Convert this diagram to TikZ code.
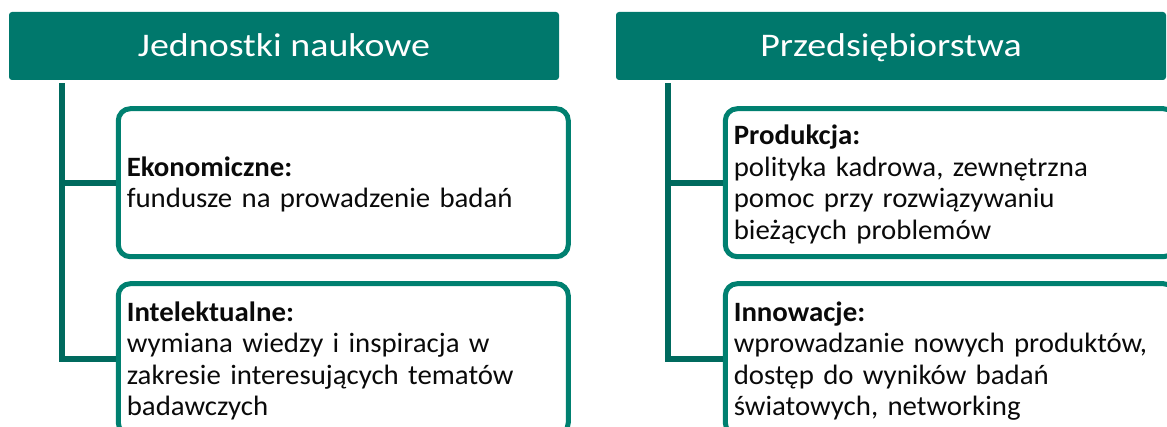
\documentclass[tikz,border=0pt]{standalone}
\usepackage{fontspec}
\setmainfont{Carlito}
\newfontfamily\headfont[FakeStretch=1.15]{Carlito}
\newfontfamily\bodyfont[FakeStretch=1.03, WordSpace=0.85]{Carlito}
\usepackage{xcolor}
\usepackage{tikz}
\usetikzlibrary{positioning}

\definecolor{headteal}{HTML}{00786C}
\definecolor{boxteal}{HTML}{008070}
\definecolor{lineteal}{HTML}{006A5E}
\definecolor{textblack}{HTML}{0A0A0A}

\begin{document}
\begin{tikzpicture}[x=1pt, y=-1pt]
    \tikzstyle{header} = [rectangle, rounded corners=3pt, fill=headteal, text=white, minimum width=550pt, minimum height=68pt, text height=26pt, text depth=4pt, font=\headfont\fontsize{33}{38}\selectfont];
    \tikzstyle{card} = [rectangle, rounded corners=12pt, draw=boxteal, line width=5pt, fill=white, minimum width=450pt, text width=433pt, inner xsep=8.5pt, align=left, text=textblack, font=\bodyfont\fontsize{28}{31.5}\selectfont,
        execute at begin node={\rule{0pt}{25pt}}, execute at end node={\rule[-6.5pt]{0pt}{0pt}}];
    \tikzstyle{link} = [draw=lineteal, line width=6pt];

    \useasboundingbox (0,0) rectangle (1167,427);
    \clip (0,0) rectangle (1167,427);

    % left column
    \node [header] (JN) at (284,46) {Jednostki naukowe};
    \node [card, minimum height=148pt, below right = 26pt and 107pt of JN.south west] (JN1)
        {\textbf{Ekonomiczne:}\\fundusze na prowadzenie badań};
    \node [card, minimum height=151pt, below = 22pt of JN1] (JN2)
        {\textbf{Intelektualne:}\\wymiana wiedzy i inspiracja w\\zakresie interesujących tematów\\badawczych};

    % right column
    \node [header] (PR) at (891,46) {Przedsiębiorstwa};
    \node [card, minimum height=148pt, below right = 26pt and 107pt of PR.south west] (PR1)
        {\textbf{Produkcja:}\\polityka kadrowa, zewnętrzna\\pomoc przy rozwiązywaniu\\bieżących problemów};
    \node [card, minimum height=151pt, below = 22pt of PR1] (PR2)
        {\textbf{Innowacje:}\\wprowadzanie nowych produktów,\\dostęp do wyników badań\\światowych, networking};

    \coordinate (JNt) at ([xshift=53pt, yshift=-3pt] JN.south west);
    \coordinate (PRt) at ([xshift=52pt, yshift=-3pt] PR.south west);

    \draw [link] (JNt) |- (JN1.west);
    \draw [link] (JNt) |- (JN2.west);
    \draw [link] (PRt) |- (PR1.west);
    \draw [link] (PRt) |- (PR2.west);
\end{tikzpicture}
\end{document}
